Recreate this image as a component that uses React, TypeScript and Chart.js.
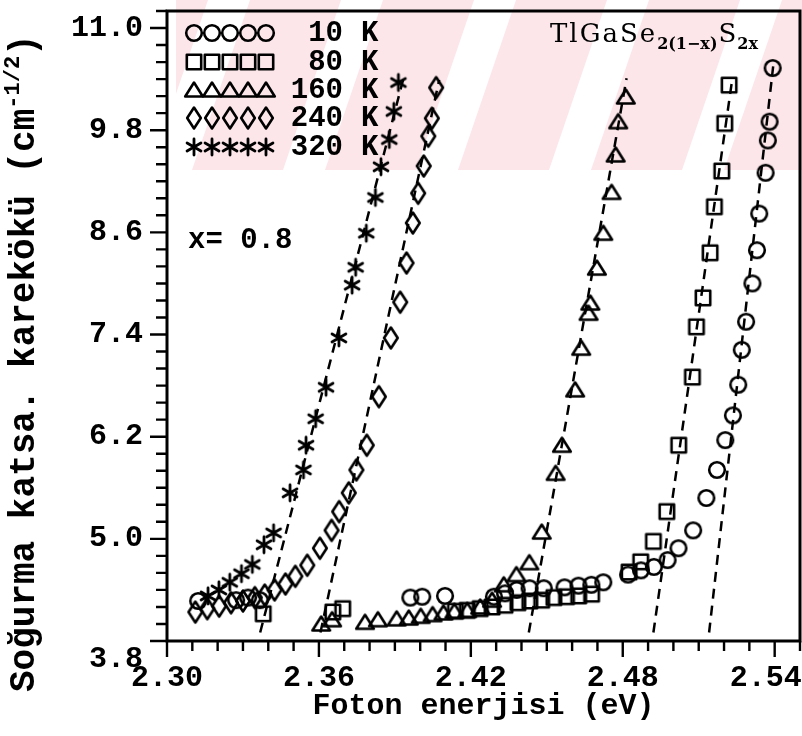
import { useEffect, useRef } from 'react';
import { Chart, registerables } from 'chart.js';

Chart.register(...registerables);

const W = 802;
const H = 736;
const MONO = '"Liberation Mono", "DejaVu Sans Mono", monospace';
const SERIF = '"DejaVu Serif", "Liberation Serif", serif';

const X_MIN = 2.3;
const X_MAX = 2.55;
const Y_MIN = 3.8;
const Y_MAX = 11.2;
const X_TICK_VALUES = [2.3, 2.36, 2.42, 2.48, 2.54];
const Y_TICK_VALUES = [3.8, 5.0, 6.2, 7.4, 8.6, 9.8, 11.0];
const X_MINOR_STEP = 0.01;
const Y_MINOR_STEP = 0.2;

const X_TITLE = 'Foton enerjisi (eV)';
const Y_TITLE = 'Soğurma katsa. karekökü (cm';
const Y_TITLE_EXP = '-1/2';
const Y_TITLE_END = ')';
const COMPOSITION = 'x= 0.8';
const FORMULA = ['TlGaSe', '2(1\u2212x)', 'S', '2x'];

const TEMPS = ['10', '80', '160', '240', '320'];

// Photon energy (eV) and square root of the absorption coefficient, per temperature
const e10 = [2.3123, 2.3273, 2.332, 2.3367, 2.3961, 2.4008, 2.4098, 2.4291, 2.4335, 2.4381, 2.4432, 2.4488, 2.457, 2.4625, 2.4676, 2.4723, 2.4821, 2.4872, 2.4923, 2.4977, 2.502, 2.5078, 2.513, 2.5172, 2.5205, 2.5235, 2.5256, 2.527, 2.5287, 2.5312, 2.533, 2.5339, 2.5364, 2.5373, 2.538, 2.5392];
const r10 = [4.27, 4.28, 4.31, 4.28, 4.31, 4.32, 4.33, 4.32, 4.36, 4.4, 4.42, 4.42, 4.43, 4.45, 4.46, 4.49, 4.58, 4.63, 4.67, 4.75, 4.89, 5.1, 5.48, 5.81, 6.16, 6.45, 6.81, 7.22, 7.55, 8.0, 8.39, 8.82, 9.3, 9.68, 9.9, 10.53];

const e80 = [2.338, 2.3655, 2.3694, 2.4139, 2.4186, 2.4237, 2.4284, 2.4335, 2.4386, 2.4433, 2.448, 2.4528, 2.4578, 2.4626, 2.4677, 2.4825, 2.4871, 2.4921, 2.4974, 2.5021, 2.5075, 2.5091, 2.5117, 2.5145, 2.5162, 2.5191, 2.5203, 2.522];
const r80 = [4.12, 4.14, 4.18, 4.15, 4.16, 4.18, 4.2, 4.22, 4.25, 4.27, 4.28, 4.31, 4.32, 4.33, 4.35, 4.61, 4.73, 4.97, 5.32, 6.1, 6.9, 7.49, 7.83, 8.36, 8.9, 9.32, 9.88, 10.33];

const e160 = [2.3609, 2.3652, 2.3782, 2.3833, 2.3907, 2.3955, 2.4002, 2.4049, 2.4092, 2.4135, 2.4186, 2.4237, 2.4284, 2.433, 2.438, 2.4431, 2.448, 2.4535, 2.456, 2.4612, 2.4636, 2.4665, 2.4672, 2.4698, 2.4723, 2.4756, 2.4772, 2.4782, 2.4812];
const r160 = [4.0, 4.05, 4.02, 4.05, 4.06, 4.07, 4.09, 4.11, 4.13, 4.15, 4.16, 4.2, 4.28, 4.46, 4.58, 4.72, 5.08, 5.77, 6.1, 6.75, 7.24, 7.65, 7.77, 8.18, 8.59, 9.07, 9.51, 9.9, 10.19];

const e240 = [2.3112, 2.3159, 2.3206, 2.3253, 2.33, 2.3347, 2.3386, 2.3425, 2.3468, 2.3507, 2.3554, 2.3604, 2.365, 2.368, 2.3718, 2.3748, 2.3789, 2.3837, 2.3884, 2.3921, 2.3946, 2.3971, 2.3992, 2.4014, 2.4032, 2.4046, 2.4063];
const r240 = [4.14, 4.18, 4.21, 4.25, 4.27, 4.31, 4.34, 4.4, 4.47, 4.56, 4.69, 4.89, 5.1, 5.32, 5.54, 5.81, 6.1, 6.67, 7.36, 7.78, 8.24, 8.71, 9.06, 9.38, 9.73, 9.94, 10.3];

const e320 = [2.3162, 2.3205, 2.3248, 2.3294, 2.3337, 2.3383, 2.3421, 2.3486, 2.3539, 2.3549, 2.3587, 2.3628, 2.3679, 2.3731, 2.3745, 2.3787, 2.3823, 2.3845, 2.3878, 2.3896, 2.3914];
const r320 = [4.33, 4.4, 4.49, 4.59, 4.7, 4.93, 5.07, 5.54, 5.81, 6.1, 6.41, 6.78, 7.36, 7.98, 8.19, 8.59, 9.01, 9.37, 9.69, 10.02, 10.36];

// Straight-line fits of the absorption edges (start and end of each dashed line)
const fitE10 = [2.5141, 2.5394];
const fitR10 = [3.9, 10.55];
const fitE80 = [2.4921, 2.5232];
const fitR80 = [3.9, 10.39];
const fitE160 = [2.4429, 2.4815];
const fitR160 = [3.9, 10.41];
const fitE240 = [2.3606, 2.4075];
const fitR240 = [3.9, 10.39];
const fitE320 = [2.3368, 2.3933];
const fitR320 = [3.9, 10.4];

type Draw = (g: CanvasRenderingContext2D, cx: number, cy: number) => void;

function markerCanvas(w: number, h: number, draw: Draw): HTMLCanvasElement {
  const c = document.createElement('canvas');
  c.width = w;
  c.height = h;
  const g = c.getContext('2d')!;
  g.strokeStyle = '#000';
  g.lineWidth = 2.6;
  g.lineJoin = 'round';
  g.lineCap = 'round';
  draw(g, w / 2, h / 2);
  return c;
}

function makeMarkers() {
  const circle = markerCanvas(22, 22, (g, cx, cy) => {
    g.beginPath();
    g.arc(cx, cy, 7.8, 0, Math.PI * 2);
    g.stroke();
  });
  const square = markerCanvas(22, 22, (g, cx, cy) => {
    g.strokeRect(cx - 7.2, cy - 7.2, 14.4, 14.4);
  });
  const triangle = markerCanvas(24, 22, (g, cx, cy) => {
    g.beginPath();
    g.moveTo(cx, cy - 7.5);
    g.lineTo(cx + 8.8, cy + 6.5);
    g.lineTo(cx - 8.8, cy + 6.5);
    g.closePath();
    g.stroke();
  });
  const diamond = markerCanvas(20, 28, (g, cx, cy) => {
    g.beginPath();
    g.moveTo(cx, cy - 10.5);
    g.lineTo(cx + 6.8, cy);
    g.lineTo(cx, cy + 10.5);
    g.lineTo(cx - 6.8, cy);
    g.closePath();
    g.stroke();
  });
  const asterisk = markerCanvas(22, 22, (g, cx, cy) => {
    g.lineWidth = 2.8;
    g.beginPath();
    for (let k = 0; k < 3; k++) {
      const a = Math.PI / 2 + (k * Math.PI) / 3;
      g.moveTo(cx + 8 * Math.cos(a), cy + 8 * Math.sin(a));
      g.lineTo(cx - 8 * Math.cos(a), cy - 8 * Math.sin(a));
    }
    g.stroke();
  });
  return [circle, square, triangle, diamond, asterisk];
}

export default function App() {
  const ref = useRef<HTMLCanvasElement | null>(null);

  useEffect(() => {
    const canvas = ref.current;
    if (!canvas) return;
    const markers = makeMarkers();

    const series = [
      { e: e10, r: r10, fe: fitE10, fr: fitR10 },
      { e: e80, r: r80, fe: fitE80, fr: fitR80 },
      { e: e160, r: r160, fe: fitE160, fr: fitR160 },
      { e: e240, r: r240, fe: fitE240, fr: fitR240 },
      { e: e320, r: r320, fe: fitE320, fr: fitR320 },
    ];

    const fitSets = series.map((s, i) => ({
      label: `fit ${TEMPS[i]} K`,
      data: s.fe.map((x, j) => ({ x, y: s.fr[j] })),
      showLine: true,
      pointRadius: 0,
      borderColor: '#000',
      borderWidth: 2.5,
      borderDash: [10, 7],
      fill: false,
    }));

    const pointSets = series.map((s, i) => ({
      label: `${TEMPS[i]} K`,
      data: s.e.map((x, j) => ({ x, y: s.r[j] })),
      showLine: false,
      pointStyle: markers[i],
      pointRadius: 8,
      borderColor: '#000',
      backgroundColor: 'rgba(0,0,0,0)',
    }));

    const decor = {
      id: 'decor',
      beforeDraw(chart: any) {
        const ctx: CanvasRenderingContext2D = chart.ctx;
        ctx.save();
        ctx.fillStyle = '#fff';
        ctx.fillRect(0, 0, chart.width, chart.height);
        // pale pink diagonal band across the top
        ctx.beginPath();
        ctx.rect(176, 0, chart.width - 176, 170);
        ctx.clip();
        ctx.fillStyle = '#fce6ea';
        for (let b = 192 - 266; b < chart.width + 133; b += 133) {
          ctx.beginPath();
          ctx.moveTo(b, 170);
          ctx.lineTo(b + 91, 170);
          ctx.lineTo(b + 91 + 58, 0);
          ctx.lineTo(b + 58, 0);
          ctx.closePath();
          ctx.fill();
        }
        ctx.restore();
      },
      afterDraw(chart: any) {
        const ctx: CanvasRenderingContext2D = chart.ctx;
        const { left, right, top, bottom } = chart.chartArea;
        const xs = chart.scales.x;
        const ys = chart.scales.y;
        ctx.save();
        ctx.strokeStyle = '#000';
        ctx.fillStyle = '#000';

        // frame
        ctx.lineWidth = 3;
        ctx.strokeRect(left, top, right - left, bottom - top);

        // tick marks, longer at labelled values
        ctx.lineWidth = 2.4;
        ctx.beginPath();
        const nx = Math.round((X_MAX - X_MIN) / X_MINOR_STEP);
        for (let i = 0; i <= nx; i++) {
          const px = xs.getPixelForValue(X_MIN + i * X_MINOR_STEP);
          const len = i % 6 === 0 ? 16 : 10;
          ctx.moveTo(px, bottom);
          ctx.lineTo(px, bottom + len);
        }
        const ny = Math.round((Y_MAX - Y_MIN) / Y_MINOR_STEP);
        for (let i = 0; i <= ny; i++) {
          const py = ys.getPixelForValue(Y_MIN + i * Y_MINOR_STEP);
          const len = i % 6 === 0 ? 17 : 11;
          ctx.moveTo(left, py);
          ctx.lineTo(left - len, py);
        }
        ctx.stroke();

        // x-axis title
        ctx.textAlign = 'center';
        ctx.textBaseline = 'middle';
        ctx.font = `bold 30px ${MONO}`;
        ctx.fillText(X_TITLE, (left + right) / 2, 706);

        // y-axis title with exponent
        ctx.save();
        ctx.translate(25, 692);
        ctx.rotate(-Math.PI / 2);
        ctx.textAlign = 'left';
        ctx.font = `bold 36px ${MONO}`;
        ctx.fillText(Y_TITLE, 0, 0);
        let w = ctx.measureText(Y_TITLE).width;
        ctx.font = `bold 22px ${MONO}`;
        ctx.fillText(Y_TITLE_EXP, w, -12);
        w += ctx.measureText(Y_TITLE_EXP).width;
        ctx.font = `bold 36px ${MONO}`;
        ctx.fillText(Y_TITLE_END, w, 0);
        ctx.restore();

        // legend: five repeated symbols, temperature, unit
        const rowY = [33, 62, 90, 118, 147];
        for (let i = 0; i < TEMPS.length; i++) {
          const m = markers[i];
          for (let k = 0; k < 5; k++) {
            const cx = 194 + k * 18;
            ctx.drawImage(m, cx - m.width / 2, rowY[i] - m.height / 2);
          }
          ctx.font = `bold 29px ${MONO}`;
          ctx.textAlign = 'right';
          ctx.fillText(TEMPS[i], 343, rowY[i] + 1);
          ctx.textAlign = 'left';
          ctx.fillText('K', 361, rowY[i] + 1);
        }

        // composition note
        ctx.textAlign = 'left';
        ctx.font = `bold 29px ${MONO}`;
        ctx.fillText(COMPOSITION, 188, 241);

        // compound formula with subscripts
        ctx.textBaseline = 'alphabetic';
        let fx = 550;
        (ctx as any).letterSpacing = '2px';
        ctx.font = `26px ${SERIF}`;
        ctx.fillText(FORMULA[0], fx, 42);
        fx += ctx.measureText(FORMULA[0]).width;
        (ctx as any).letterSpacing = '0px';
        ctx.font = `bold 16px ${SERIF}`;
        ctx.fillText(FORMULA[1], fx, 49);
        fx += ctx.measureText(FORMULA[1]).width + 1;
        ctx.font = `26px ${SERIF}`;
        ctx.fillText(FORMULA[2], fx, 42);
        fx += ctx.measureText(FORMULA[2]).width + 1;
        ctx.font = `bold 16px ${SERIF}`;
        ctx.fillText(FORMULA[3], fx, 49);

        ctx.restore();
      },
    };

    const tickFont = { family: MONO, size: 30, weight: 'bold' };

    const chart = new Chart(canvas, {
      type: 'scatter',
      data: { datasets: [...fitSets, ...pointSets] as any },
      options: {
        animation: false,
        responsive: false,
        devicePixelRatio: 1,
        events: [],
        layout: { autoPadding: false, padding: { top: 11, right: 2, left: 0, bottom: 0 } },
        plugins: {
          legend: { display: false },
          tooltip: { enabled: false },
          title: { display: false },
        },
        scales: {
          x: {
            type: 'linear',
            min: X_MIN,
            max: X_MAX,
            afterBuildTicks: (s: any) => {
              s.ticks = X_TICK_VALUES.map((value) => ({ value }));
            },
            afterFit: (s: any) => {
              s.height = 95;
              s.paddingLeft = 0;
              s.paddingRight = 0;
            },
            grid: { display: false, drawTicks: true, tickLength: 16 },
            border: { display: false },
            ticks: {
              color: '#000',
              font: tickFont,
              padding: 3,
              maxRotation: 0,
              autoSkip: false,
              callback: (v: any, i: number) => {
                const t = Number(v).toFixed(2);
                return i === X_TICK_VALUES.length - 1 ? t + ' ' : t;
              },
            },
          },
          y: {
            type: 'linear',
            min: Y_MIN,
            max: Y_MAX,
            afterBuildTicks: (s: any) => {
              s.ticks = Y_TICK_VALUES.map((value) => ({ value }));
            },
            afterFit: (s: any) => {
              s.width = 167;
              s.paddingTop = 0;
              s.paddingBottom = 0;
            },
            grid: { display: false, drawTicks: true, tickLength: 17 },
            border: { display: false },
            ticks: {
              color: '#000',
              font: tickFont,
              padding: 7,
              autoSkip: false,
              callback: (v: any, i: number) => {
                const t = Number(v).toFixed(1);
                return i === 0 ? ['', t] : t;
              },
            },
          },
        },
      } as any,
      plugins: [decor],
    });

    return () => chart.destroy();
  }, []);

  return (
    <div style={{ position: 'fixed', left: 0, top: 0, width: W, height: H, background: '#fff' }}>
      <canvas ref={ref} width={W} height={H} style={{ display: 'block' }} />
    </div>
  );
}
